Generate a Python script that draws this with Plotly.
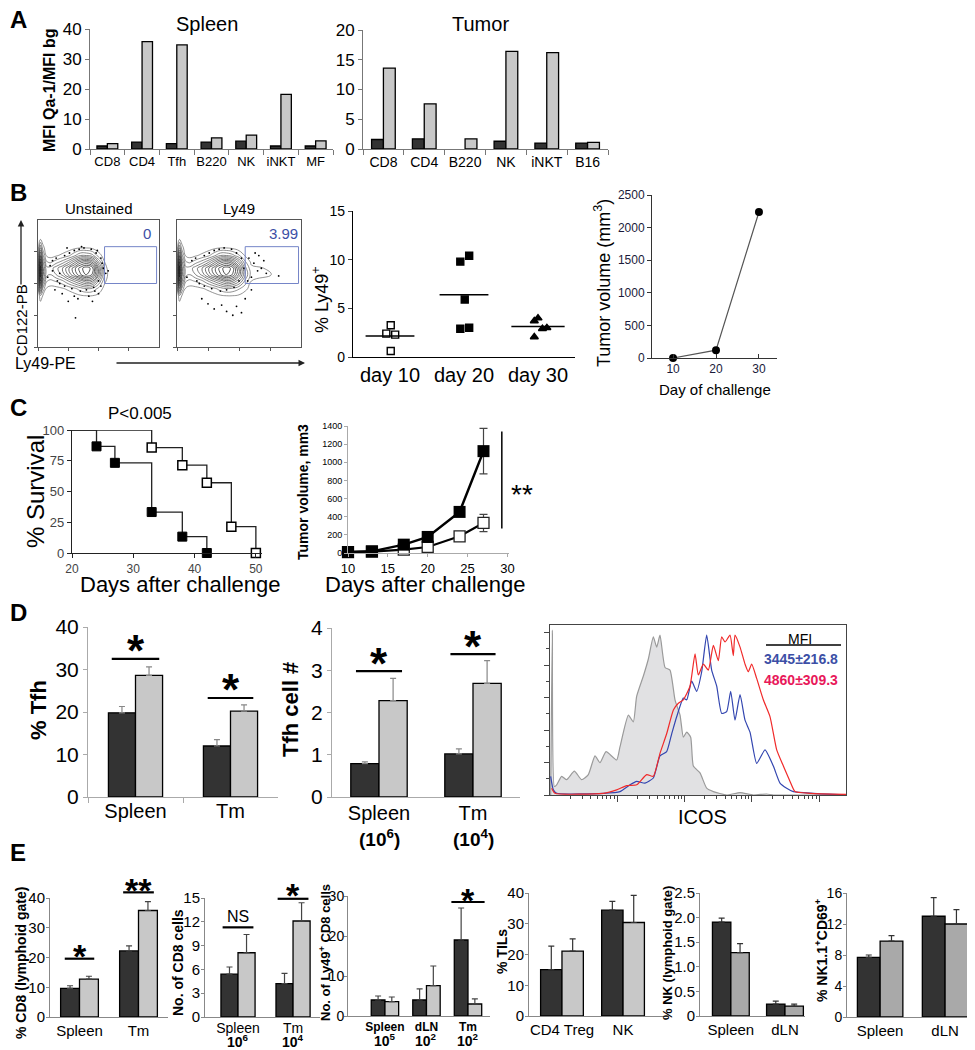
import plotly.graph_objects as go
import numpy as np

# The page adds an 8px body margin; the figure is sized so that it ends at the window edge,
# and all layout positions below are given in window pixels.
PAD = 8
W, H = 975 - PAD, 1050 - PAD
FONT = "Liberation Sans, Arial, Helvetica, sans-serif"
DARK = "#333333"
LIGHT = "#c8c8c8"
MID = "#a9a9a9"
BLUE = "#3c4fa6"
PINK = "#e8185a"

# ---------------- DATA ----------------
# Panel A
spleen_cats = ["CD8", "CD4", "Tfh", "B220", "NK", "iNKT", "MF"]
spleen_dark = [1.0, 2.3, 1.8, 2.3, 2.6, 1.0, 1.0]
spleen_light = [1.8, 35.8, 34.7, 3.7, 4.6, 18.2, 2.7]
tumor_cats = ["CD8", "CD4", "B220", "NK", "iNKT", "B16"]
tumor_dark = [1.6, 1.7, None, 1.3, 1.0, 1.0]
tumor_light = [13.6, 7.6, 1.7, 16.4, 16.2, 1.1]

# Panel B flow (density grid, arbitrary units) and sparse events
flow_x = [0, 2, 4, 7, 10, 15, 20, 25, 30, 35, 40, 45, 50, 55, 60, 100]
flow_y = [30, 40, 46, 52, 57, 62, 67, 72, 78, 85, 95]
unst_z = [
    [0, 0, 0, 0, 0, 0, 0, 0, 0, 0, 0, 0, 0, 0, 0, 0],
    [0, 1, 0.5, 0, 0, 0, 0, 0, 0.2, 0.4, 0.5, 0.5, 0.3, 0, 0, 0],
    [0.5, 5, 2, 0.5, 0.3, 0.3, 0.5, 0.8, 1.2, 1.8, 2.2, 2, 1.2, 0.3, 0, 0],
    [1, 8, 4, 1.5, 1.2, 1.5, 2, 3, 4, 5, 6, 5.5, 3, 0.8, 0, 0],
    [1, 9, 5, 2.5, 2.2, 3, 4, 5.5, 7, 8.5, 9.5, 8.5, 5, 1.2, 0, 0],
    [1, 9, 5, 2.5, 2.5, 3.5, 4.5, 6, 7.5, 9, 10, 9, 5, 1, 0, 0],
    [1, 8, 4, 1.5, 1.2, 1.8, 2.5, 3.5, 5, 6.5, 7, 6, 3, 0.6, 0, 0],
    [0.5, 6, 2.5, 0.5, 0.3, 0.5, 0.8, 1.2, 2, 3, 3, 2.5, 1, 0.2, 0, 0],
    [0, 3, 1, 0, 0, 0, 0, 0.2, 0.4, 0.6, 0.6, 0.4, 0.1, 0, 0, 0],
    [0, 0.5, 0, 0, 0, 0, 0, 0, 0, 0, 0, 0, 0, 0, 0, 0],
    [0, 0, 0, 0, 0, 0, 0, 0, 0, 0, 0, 0, 0, 0, 0, 0],
]
ly49_z = [
    [0, 0, 0, 0, 0, 0, 0, 0, 0, 0, 0, 0, 0, 0, 0, 0],
    [0, 1, 0.5, 0, 0, 0, 0, 0, 0.2, 0.4, 0.5, 0.5, 0.4, 0.2, 0, 0],
    [0.5, 5, 2, 0.5, 0.3, 0.3, 0.5, 0.8, 1.2, 1.8, 2.2, 2, 1.5, 0.8, 0.3, 0],
    [1, 8, 4, 1.5, 1.2, 1.5, 2, 3, 4, 5, 6, 5.5, 4, 2, 0.6, 0],
    [1, 9, 5, 2.5, 2.2, 3, 4, 5.5, 7, 8.5, 9.5, 8.5, 6, 3, 1, 0],
    [1, 9, 5, 2.5, 2.5, 3.5, 4.5, 6, 7.5, 9, 10, 9, 6, 2.5, 0.8, 0],
    [1, 8, 4, 1.5, 1.2, 1.8, 2.5, 3.5, 5, 6.5, 7, 6, 4, 1.5, 0.4, 0],
    [0.5, 6, 2.5, 0.5, 0.3, 0.5, 0.8, 1.2, 2, 3, 3, 2.5, 1.5, 0.5, 0, 0],
    [0, 3, 1, 0, 0, 0, 0, 0.2, 0.4, 0.6, 0.6, 0.4, 0.1, 0, 0, 0],
    [0, 0.5, 0, 0, 0, 0, 0, 0, 0, 0, 0, 0, 0, 0, 0, 0],
    [0, 0, 0, 0, 0, 0, 0, 0, 0, 0, 0, 0, 0, 0, 0, 0],
]
unst_dots_x = [8, 12, 15, 18, 22, 26, 30, 34, 38, 44, 48, 52, 54, 50, 46, 40, 35, 28, 22, 16,
               12, 10, 20, 30, 42, 50, 56, 53, 47, 33, 25, 18, 31, 45, 36, 58, 24, 14, 52, 49]
unst_dots_y = [55, 68, 70, 50, 72, 74, 76, 77, 78, 77, 74, 70, 62, 52, 47, 45, 44, 46, 48, 52,
               60, 64, 42, 40, 40, 42, 58, 66, 44, 38, 36, 58, 23, 36, 79, 60, 78, 45, 48, 76]
ly49_dots_x = [8, 12, 15, 18, 22, 26, 30, 34, 38, 44, 48, 52, 54, 50, 46, 40, 35, 28, 22, 16,
               58, 62, 65, 60, 68, 72, 66, 57, 63, 70, 82, 30, 40, 25, 48, 55, 36, 20, 45, 60, 52]
ly49_dots_y = [55, 68, 70, 50, 72, 74, 76, 77, 78, 77, 74, 70, 62, 52, 47, 45, 44, 46, 48, 52,
               70, 66, 60, 55, 62, 58, 72, 52, 74, 68, 56, 30, 28, 34, 32, 38, 33, 38, 25, 45, 27]

# Panel B: % Ly49+ over time
ly49_days = ["day 10", "day 20", "day 30"]
ly49_d10 = [3.26, 2.4, 2.3, 0.62]
ly49_d20 = [9.8, 10.4, 5.9, 2.9, 3.0]
ly49_d30 = [3.7, 4.0, 2.9, 3.0, 2.06]
jit_d10 = [0.01, -0.05, 0.07, 0.01]
jit_d20 = [-0.05, 0.07, 0.01, -0.05, 0.07]
jit_d30 = [-0.05, 0.0, 0.06, 0.12, -0.05]

# Panel B: tumor volume
tv_days = [10, 20, 30]
tv_vol = [0, 120, 2240]

# Panel C: survival
surv_a_days = [20, 24, 27, 33, 38, 42]
surv_a = [100, 86.7, 73.3, 33.3, 13.3, 0]
surv_b_days = [20, 33, 38, 42, 46, 50]
surv_b = [100, 85.7, 71.4, 57.1, 21.4, 0]

# Panel C: tumor growth
tg_days = [10, 13, 17, 20, 24, 27]
tg_filled = [11, 18, 92, 177, 453, 1123]
tg_filled_err = [5, 8, 20, 60, 30, 250]
tg_open = [10, 15, 37, 66, 184, 331]
tg_open_err = [5, 5, 10, 15, 25, 95]

# Panel D
tfh_cats = ["Spleen", "Tm"]
tfh_pct_dark = [19.8, 12.0]
tfh_pct_dark_err = [1.5, 1.5]
tfh_pct_light = [28.6, 20.2]
tfh_pct_light_err = [2.0, 1.5]
tfh_num_dark = [0.79, 1.02]
tfh_num_dark_err = [0.04, 0.12]
tfh_num_light = [2.28, 2.69]
tfh_num_light_err = [0.53, 0.54]
tfh_num_scale = ["(10<sup>6</sup>)", "(10<sup>4</sup>)"]

# ICOS histograms (x in decades, y in % of max)
icos_gray_x = [0.01, 0.035, 0.064, 0.099, 0.173, 0.248, 0.362, 0.471, 0.57, 0.669, 0.743, 0.833, 0.991,
               1.041, 1.165, 1.239, 1.288, 1.388, 1.462, 1.536, 1.586, 1.635, 1.71, 1.784, 1.858,
               1.933, 1.982, 2.032, 2.091, 2.131, 2.23, 2.329, 2.428, 2.626, 2.825, 3.023, 3.221,
               3.32, 4.4]
icos_gray_y = [0, 97, 5, 6, 11, 9, 14, 9, 12, 23, 19, 25.5, 20.6,
               28.4, 47, 43, 58, 70, 80, 93, 87, 94, 75, 73.5, 56,
               47, 34, 37, 34, 17, 13, 4, 2, 0, 1.4, 0, 0.6,
               0, 0]
icos_blue_x = [0.01, 0.05, 0.099, 0.793, 1.041, 1.189, 1.288, 1.412, 1.536, 1.635, 1.734, 1.809, 1.883,
               1.982, 2.032, 2.106, 2.18, 2.255, 2.329, 2.403, 2.478, 2.552, 2.626, 2.686, 2.75,
               2.825, 2.899, 2.973, 3.072, 3.196, 3.32, 3.419, 3.518, 3.617, 3.915, 4.4]
icos_blue_y = [11, 3, 1, 1, 2, 6, 8, 7, 10, 23, 25.5, 36, 46,
               57, 56, 67, 61, 72.5, 94, 73.5, 64, 48, 49, 61, 44,
               59, 44, 37, 18.6, 26.5, 17, 7, 4, 2, 1, 0]
icos_red_x = [0.025, 0.074, 0.793, 0.991, 1.14, 1.288, 1.437, 1.536, 1.635, 1.734, 1.834, 1.908, 1.982,
              2.081, 2.156, 2.205, 2.279, 2.354, 2.428, 2.502, 2.552, 2.602, 2.676, 2.725, 2.75,
              2.825, 2.899, 2.948, 2.998, 3.072, 3.171, 3.271, 3.37, 3.469, 3.568, 3.642, 3.865, 4.4]
icos_red_y = [4, 1, 1, 3, 5.5, 6, 12, 11, 24.5, 36, 50, 54, 56,
              64, 83, 70.6, 77, 73.5, 88, 79, 93, 90, 94, 82, 94,
              87, 77, 72.5, 77, 68.6, 56, 46, 26.5, 17, 8, 2, 1, 0.4]
icos_mfi = ["3445±216.8", "4860±309.3"]

# Panel E
e1_cats = ["Spleen", "Tm"]
e1_dark = [9.6, 22.2]; e1_dark_err = [0.9, 1.7]
e1_light = [12.7, 35.8]; e1_light_err = [1.0, 3.0]
e2_cats = ["Spleen", "Tm"]
e2_dark = [5.4, 4.2]; e2_dark_err = [0.9, 1.3]
e2_light = [8.1, 12.1]; e2_light_err = [2.3, 2.3]
e2_scale = ["10<sup>6</sup>", "10<sup>4</sup>"]
e3_cats = ["Spleen", "dLN", "Tm"]
e3_dark = [4.0, 4.0, 19.0]; e3_dark_err = [1.0, 2.8, 8.0]
e3_light = [3.6, 7.6, 3.0]; e3_light_err = [1.15, 4.9, 1.3]
e3_scale = ["10<sup>5</sup>", "10<sup>2</sup>", "10<sup>2</sup>"]
e4_cats = ["CD4 Treg", "NK"]
e4_dark = [15.1, 34.4]; e4_dark_err = [7.6, 2.9]
e4_light = [21.1, 30.4]; e4_light_err = [4.0, 8.8]
e5_cats = ["Spleen", "dLN"]
e5_dark = [1.91, 0.243]; e5_dark_err = [0.08, 0.06]
e5_light = [1.29, 0.20]; e5_light_err = [0.18, 0.04]
e6_cats = ["Spleen", "dLN"]
e6_dark = [7.7, 13.0]; e6_dark_err = [0.3, 2.4]
e6_light = [9.8, 12.0]; e6_light_err = [0.7, 1.85]

# ---------------- FIGURE ----------------
fig = go.Figure()
layout = dict(template="none", width=W, height=H, margin=dict(l=0, r=0, t=0, b=0, autoexpand=False),
              paper_bgcolor="white", plot_bgcolor="rgba(0,0,0,0)",
              showlegend=False, barmode="overlay",
              font=dict(family=FONT, color="black"))
annotations = []
shapes = []
panels = {}


def fx(px):
    return (px - PAD) / W


def fy(py):
    return 1 - (py - PAD) / H


def names(i):
    s = "" if i == 1 else str(i)
    return "xaxis" + s, "yaxis" + s, "x" + s, "y" + s


def add_axes(i, box, xa, ya):
    x0, x1, yt, yb = box
    xn, yn, xr, yr = names(i)
    xa = dict(xa)
    ya = dict(ya)
    xa.update(domain=[fx(x0), fx(x1)], anchor=yr, showgrid=False, zeroline=False, automargin=False)
    ya.update(domain=[fy(yb), fy(yt)], anchor=xr, showgrid=False, zeroline=False, automargin=False)
    layout[xn] = xa
    layout[yn] = ya
    panels[i] = (box, xa.get("range"), ya.get("range"))
    return xr, yr


def to_px(i, x, y):
    (x0, x1, yt, yb), xr, yr = panels[i]
    px = x0 + (x - xr[0]) / (xr[1] - xr[0]) * (x1 - x0)
    py = yb - (y - yr[0]) / (yr[1] - yr[0]) * (yb - yt)
    return px, py


def text(x, y, s, size, bold=False, color="black", angle=0, xanchor="center", yanchor="middle"):
    annotations.append(dict(x=fx(x), y=fy(y), xref="paper", yref="paper",
                            text=("<b>%s</b>" % s) if bold else s, showarrow=False,
                            font=dict(size=size, color=color, family=FONT), textangle=angle,
                            xanchor=xanchor, yanchor=yanchor))


def dtext(i, x, y, s, size, bold=False, color="black", up=0):
    px, py = to_px(i, x, y)
    text(px, py - up, s, size, bold=bold, color=color)


def seg(i, xa, ya, xb, yb, color="black", width=2):
    p0 = to_px(i, xa, ya)
    p1 = to_px(i, xb, yb)
    shapes.append(dict(type="line", xref="paper", yref="paper", x0=fx(p0[0]), y0=fy(p0[1]),
                       x1=fx(p1[0]), y1=fy(p1[1]), line=dict(color=color, width=width)))


def sig(i, xc, half, y, label, size, up, bold=True):
    seg(i, xc - half, y, xc + half, y, width=2.2)
    dtext(i, xc, y, label, size, bold=bold, up=up)


def bar_panel(i, box, cats, dark, light, derr, lerr, bw, yrange, xrange, ytick, xtickfont,
              ytickfont, light_color=LIGHT, err_color="#666666", axis_color="#888888",
              xticks="", ytickvals=None, yticktext=None, xbold=False, xstand=0, ystand=0, yticklen=4):
    n = len(cats)
    xa = dict(type="category", range=xrange, showline=True, linecolor=axis_color, linewidth=1,
              ticks=xticks, tickson="boundaries", ticklen=5, tickcolor=axis_color, tickangle=0,
              tickfont=dict(size=xtickfont), categoryorder="array", categoryarray=cats,
              ticklabelstandoff=xstand)
    if xbold:
        xa.update(tickvals=cats, ticktext=["<b>%s</b>" % c for c in cats])
    ya = dict(range=yrange, showline=True, linecolor=axis_color, linewidth=1, ticks="outside",
              ticklen=yticklen, tickcolor=axis_color, tickfont=dict(size=ytickfont),
              ticklabelstandoff=ystand)
    if ytickvals is not None:
        ya.update(tickvals=ytickvals, ticktext=yticktext)
    else:
        ya.update(dtick=ytick, tick0=0)
    xr, yr = add_axes(i, box, xa, ya)
    for vals, errs, color, off in [(dark, derr, DARK, -bw), (light, lerr, light_color, 0)]:
        eb = None
        if errs is not None:
            eb = dict(type="data", symmetric=False, array=errs, arrayminus=[0] * n,
                      color=err_color, thickness=1.2, width=3)
        fig.add_trace(go.Bar(x=cats, y=vals, width=bw, offset=off,
                             marker=dict(color=color, line=dict(color="black", width=1.3)),
                             error_y=eb, xaxis=xr, yaxis=yr, hoverinfo="skip"))


def arrow(x, y, ax, ay):
    annotations.append(dict(x=fx(x), y=fy(y), ax=ax, ay=ay, xref="paper", yref="paper",
                            text="", showarrow=True, arrowhead=2, arrowsize=1, arrowwidth=1.3,
                            arrowcolor="#222222"))


# ---- Panel A ----
bar_panel(1, (90, 333, 29, 149), spleen_cats, spleen_dark, spleen_light, None, None, 0.3,
          [0, 40], [-0.5, 6.5], 10, 13, 17, axis_color="#777777", xticks="outside")
bar_panel(2, (363, 608, 30, 149), tumor_cats, tumor_dark, tumor_light, None, None, 0.29,
          [0, 20], [-0.5, 5.5], 5, 14, 17, axis_color="#777777", xticks="outside")
text(207, 24, "Spleen", 20)
text(480, 24, "Tumor", 20)
text(50, 90, "MFI Qa-1/MFI bg", 16, bold=True, angle=-90)

# ---- Panel B: flow plots ----
for i, box, z, dx, dy, title in [(3, (38, 159, 220, 347), unst_z, unst_dots_x, unst_dots_y, "Unstained"),
                                 (4, (177, 301, 220, 347), ly49_z, ly49_dots_x, ly49_dots_y, "Ly49")]:
    fl = dict(range=[0, 100], showline=True, mirror=True, linecolor="#555555", linewidth=1,
              ticks="outside", ticklen=3, tickcolor="#555555", showticklabels=False,
              tickvals=[0, 25, 50, 75])
    xr, yr = add_axes(i, box, fl, fl)
    fig.add_trace(go.Contour(x=flow_x, y=flow_y, z=z, xaxis=xr, yaxis=yr, showscale=False,
                             contours=dict(coloring="lines", start=0.6, end=10.2, size=0.8),
                             line=dict(width=0.7, smoothing=1.3),
                             colorscale=[[0, "#666666"], [1, "#000000"]], hoverinfo="skip"))
    fig.add_trace(go.Scatter(x=dx, y=dy, mode="markers", xaxis=xr, yaxis=yr,
                             marker=dict(size=1.8, color="black"), hoverinfo="skip"))
    p0 = to_px(i, 55, 50)
    p1 = to_px(i, 98, 79)
    shapes.append(dict(type="rect", xref="paper", yref="paper", x0=fx(p0[0]), y0=fy(p0[1]),
                       x1=fx(p1[0]), y1=fy(p1[1]), line=dict(color="#7585c8", width=1)))
    text((box[0] + box[1]) / 2, 208, title, 15)
text(147, 233, "0", 15, color=BLUE)
text(283, 233, "3.99", 15, color=BLUE)
text(21, 320, "CD122-PB", 15, angle=-90)
arrow(21, 220, 0, 66)
text(13, 363, "Ly49-PE", 16, xanchor="left")
arrow(305, 363, -190, 0)

# ---- Panel B: % Ly49+ ----
xa = dict(range=[0.5, 3.5], showline=True, linecolor="black", linewidth=1.2, ticks="",
          tickvals=[1, 2, 3], ticktext=ly49_days, tickfont=dict(size=20))
ya = dict(range=[0, 15], showline=True, linecolor="black", linewidth=1.2, ticks="outside",
          ticklen=4, dtick=5, tick0=0, tickfont=dict(size=14))
xr, yr = add_axes(5, (353, 575, 211, 357), xa, ya)
for k, (vals, jit, sym, half) in enumerate([(ly49_d10, jit_d10, "square-open", 0.33),
                                            (ly49_d20, jit_d20, "square", 0.33),
                                            (ly49_d30, jit_d30, "triangle-up", 0.36)]):
    c = k + 1
    fig.add_trace(go.Scatter(x=[c + j for j in jit], y=vals, mode="markers", xaxis=xr, yaxis=yr,
                             marker=dict(symbol=sym, size=7, color="black", line=dict(width=1.4, color="black")),
                             hoverinfo="skip"))
    m = float(np.mean(vals))
    fig.add_trace(go.Scatter(x=[c - half, c + half], y=[m, m], mode="lines", xaxis=xr, yaxis=yr,
                             line=dict(color="black", width=1.5), hoverinfo="skip"))
text(320, 300, "% Ly49<sup>+</sup>", 18, angle=-90)

# ---- Panel B: tumor volume ----
xa = dict(range=[5.1, 34.2], showline=True, linecolor="#333333", linewidth=1, ticks="inside",
          ticklen=4, tickcolor="#333333", tickvals=tv_days, tickfont=dict(size=12, color="#1a1a3a"))
ya = dict(range=[0, 2500], showline=True, linecolor="#333333", linewidth=1, ticks="outside",
          ticklen=4, tickcolor="#333333", dtick=500, tick0=0, tickfont=dict(size=12, color="#1a1a3a"))
xr, yr = add_axes(6, (652, 777, 195, 358), xa, ya)
fig.add_trace(go.Scatter(x=tv_days, y=tv_vol, mode="lines+markers", xaxis=xr, yaxis=yr,
                         line=dict(color="#555555", width=1.2), marker=dict(size=8, color="black"),
                         cliponaxis=False, hoverinfo="skip"))
text(602, 283, "Tumor volume (mm<sup>3</sup>)", 18, angle=-90)
text(715, 390, "Day of challenge", 15)

# ---- Panel C: survival ----
xa = dict(range=[20, 51], showline=True, linecolor="#222222", linewidth=1.2, ticks="outside",
          ticklen=4, tickcolor="#222222", tickvals=[20, 30, 40, 50], tickfont=dict(size=12, color="#444444"))
ya = dict(range=[0, 100], showline=True, linecolor="#222222", linewidth=1.2, ticks="outside",
          ticklen=4, tickcolor="#222222", tickvals=[0, 25, 50, 75, 100], tickfont=dict(size=13, color="#444444"))
xr, yr = add_axes(7, (72, 262, 430, 553), xa, ya)
for days, surv, fill, lw in [(surv_a_days, surv_a, "black", 1), (surv_b_days, surv_b, "white", 1.5)]:
    fig.add_trace(go.Scatter(x=days, y=surv, mode="lines", line_shape="hv", xaxis=xr, yaxis=yr,
                             line=dict(color="#222222", width=1.3), cliponaxis=False, hoverinfo="skip"))
    fig.add_trace(go.Scatter(x=days[1:], y=surv[1:], mode="markers", xaxis=xr, yaxis=yr,
                             marker=dict(symbol="square", size=9, color=fill, line=dict(width=lw, color="black")),
                             cliponaxis=False, hoverinfo="skip"))
text(140, 413, "P&lt;0.005", 17)
text(35, 492, "% Survival", 24, angle=-90)
text(180, 584, "Days after challenge", 22)

# ---- Panel C: tumor growth ----
xa = dict(range=[10, 30.2], showline=True, linecolor="#aaaaaa", linewidth=1, ticks="outside",
          ticklen=3, tickcolor="#aaaaaa", tickvals=[10, 15, 20, 25, 30], tickfont=dict(size=13))
ya = dict(range=[0, 1400], showline=True, linecolor="#aaaaaa", linewidth=1, ticks="outside",
          ticklen=3, tickcolor="#aaaaaa", dtick=200, tick0=0, tickfont=dict(size=9))
xr, yr = add_axes(8, (348, 509, 426, 553), xa, ya)
fig.add_trace(go.Scatter(x=tg_days, y=tg_open, mode="lines+markers", xaxis=xr, yaxis=yr,
                         line=dict(color="black", width=2.2),
                         error_y=dict(type="data", array=tg_open_err, color="#444444", thickness=1.2, width=4),
                         marker=dict(symbol="square", size=11, color="white", line=dict(width=1.3, color="#222222")),
                         cliponaxis=False, hoverinfo="skip"))
fig.add_trace(go.Scatter(x=tg_days, y=tg_filled, mode="lines+markers", xaxis=xr, yaxis=yr,
                         line=dict(color="black", width=2.5),
                         error_y=dict(type="data", array=tg_filled_err, color="#444444", thickness=1.2, width=4),
                         marker=dict(symbol="square", size=12, color="black"),
                         cliponaxis=False, hoverinfo="skip"))
seg(8, 29.3, 270, 29.3, 1340, width=1.5)
text(522, 494, "**", 28)
text(303, 492, "Tumor volume, mm3", 14, bold=True, angle=-90)
text(425, 584, "Days after challenge", 22)

# ---- Panel D ----
bar_panel(9, (88, 278, 627, 797), tfh_cats, tfh_pct_dark, tfh_pct_light, tfh_pct_dark_err,
          tfh_pct_light_err, 0.285, [0, 40], [-0.5, 1.5], 10, 20, 21, err_color="#888888",
          axis_color="#aaaaaa", xticks="outside", xstand=-4)
sig(9, 0, 0.25, 32.5, "*", 44, 8)
sig(9, 1, 0.24, 23.3, "*", 44, 8)
text(38, 710, "% Tfh", 22, bold=True, angle=-90)

bar_panel(10, (332, 520, 628, 797), tfh_cats, tfh_num_dark, tfh_num_light, tfh_num_dark_err,
          tfh_num_light_err, 0.3, [0, 4], [-0.5, 1.5], 1, 20, 21, err_color="#888888",
          axis_color="#aaaaaa", xstand=-2)
sig(10, 0, 0.245, 2.98, "*", 44, 8)
sig(10, 1, 0.24, 3.38, "*", 44, 8)
for k, s in enumerate(tfh_num_scale):
    px, _ = to_px(10, k, 0)
    text(px, 838, s, 19, bold=True)
text(290, 710, "Tfh cell #", 22, bold=True, angle=-90)

# ICOS histogram
minor_x = [d + np.log10(m) for d in range(0, 4) for m in range(2, 10)]
xa = dict(range=[0, 4.4], showline=True, mirror=True, linecolor="#444444", linewidth=1,
          ticks="outside", ticklen=6, tickcolor="#444444", tickvals=[1, 2, 3, 4],
          showticklabels=False,
          minor=dict(tickvals=minor_x, ticks="outside", ticklen=3, tickcolor="#444444"))
ya = dict(range=[0, 100], showline=True, mirror=True, linecolor="#444444", linewidth=1,
          ticks="outside", ticklen=5, tickcolor="#444444", tickvals=[0, 19.1, 38.2, 57.3, 76.4, 95.5],
          showticklabels=False,
          minor=dict(tickvals=[9.55, 28.65, 47.75, 66.85, 85.95], ticks="outside", ticklen=3, tickcolor="#444444"))
xr, yr = add_axes(11, (550, 846, 625, 795), xa, ya)
fig.add_trace(go.Scatter(x=icos_gray_x, y=icos_gray_y, mode="lines", fill="tozeroy",
                         fillcolor="#e1e1e3", line=dict(color="#9a9a9a", width=1.2, shape="spline", smoothing=0.5),
                         xaxis=xr, yaxis=yr, hoverinfo="skip"))
fig.add_trace(go.Scatter(x=icos_blue_x, y=icos_blue_y, mode="lines",
                         line=dict(color="#3346b0", width=1.2, shape="spline", smoothing=0.5),
                         xaxis=xr, yaxis=yr, hoverinfo="skip"))
fig.add_trace(go.Scatter(x=icos_red_x, y=icos_red_y, mode="lines",
                         line=dict(color="#f02a2a", width=1.2, shape="spline", smoothing=0.5),
                         xaxis=xr, yaxis=yr, hoverinfo="skip"))
text(800, 639, "MFI", 14)
shapes.append(dict(type="line", xref="paper", yref="paper", x0=fx(766), x1=fx(841),
                   y0=fy(645), y1=fy(645), line=dict(color="black", width=1.3)))
text(801, 659, icos_mfi[0], 14, bold=True, color=BLUE)
text(801, 680, icos_mfi[1], 14, bold=True, color=PINK)
text(702, 817, "ICOS", 20)

# ---- Panel E ----
bar_panel(12, (50, 168, 898, 1017), e1_cats, e1_dark, e1_light, e1_dark_err, e1_light_err,
          0.32, [0, 40], [-0.5, 1.5], 10, 15, 15, err_color="#444444", ystand=-2, yticklen=3)
sig(12, 0, 0.25, 19.6, "*", 34, 3)
sig(12, 1, 0.26, 41.9, "**", 34, 2)
text(21, 963, "% CD8 (lymphoid gate)", 14, bold=True, angle=-90)

bar_panel(13, (205, 320, 898, 1017), e2_cats, e2_dark, e2_light, e2_dark_err, e2_light_err,
          0.31, [0, 15], [-0.6, 1.49], 3, 14, 15, err_color="#444444", ystand=-2, yticklen=3,
          xstand=-2)
sig(13, 0, 0.28, 11.3, "NS", 16, 11, bold=False)
sig(13, 1, 0.28, 14.9, "*", 34, 4)
for k, s in enumerate(e2_scale):
    px, _ = to_px(13, k, 0)
    text(px, 1041, s, 14, bold=True)
text(178, 963, "No. of CD8 cells", 14, bold=True, angle=-90)

bar_panel(14, (348, 490, 896, 1016), e3_cats, e3_dark, e3_light, e3_dark_err, e3_light_err,
          0.33, [0, 30], [-0.89, 2.53], 10, 12, 14, err_color="#444444", xbold=True,
          ystand=-3, yticklen=3)
sig(14, 2, 0.4, 28.5, "*", 34, 2)
for k, s in enumerate(e3_scale):
    px, _ = to_px(14, k, 0)
    text(px, 1040, s, 14, bold=True)
text(325, 953, "No. of Ly49<sup>+</sup> CD8 cells", 13, bold=True, angle=-90)

bar_panel(15, (529, 667, 893, 1016), e4_cats, e4_dark, e4_light, e4_dark_err, e4_light_err,
          0.35, [0, 40], [-0.54, 1.72], 10, 15, 15, err_color="#333333", ystand=-2, yticklen=3)
text(502, 952, "% TILs", 14, bold=True, angle=-90)

bar_panel(16, (700, 805, 893, 1016), e5_cats, e5_dark, e5_light, e5_dark_err, e5_light_err,
          0.34, [0, 2.5], [-0.57, 1.37], None, 15, 15, light_color=MID, err_color="#333333",
          ytickvals=[0, 0.5, 1.0, 1.5, 2.0, 2.5], yticktext=["0", "0.5", "1.0", "1.5", "2.0", "2.5"],
          ystand=-2, yticklen=3)
text(667, 953, "% NK (lymphoid gate)", 13, bold=True, angle=-90)

bar_panel(17, (847, 973, 893, 1017), e6_cats, e6_dark, e6_light, e6_dark_err, e6_light_err,
          0.35, [0, 16], [-0.51, 1.43], 4, 15, 14, light_color=MID, err_color="#333333",
          ystand=-2, yticklen=3)
text(821, 950, "% NK1.1<sup>+</sup>CD69<sup>+</sup>", 14, bold=True, angle=-90)

# panel letters
for s, y in [("A", 20), ("B", 193), ("C", 407), ("D", 612), ("E", 852)]:
    text(18, y, s, 24, bold=True)

layout["annotations"] = annotations
layout["shapes"] = shapes
fig.update_layout(**layout)
fig.write_html("out.html")
